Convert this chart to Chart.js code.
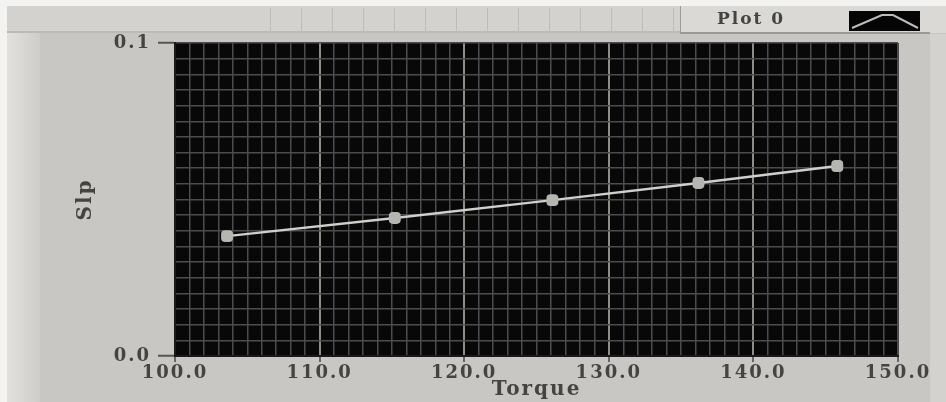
<!DOCTYPE html>
<html lang="en">
<head>
  <meta charset="UTF-8">
  <title>Slp vs Torque</title>
  <script src="https://cdn.jsdelivr.net/npm/chart.js@4.4.0/dist/chart.umd.min.js"></script>
  <style>
    html, body { margin: 0; padding: 0; background: #c9c7c3; }
    #wrap { width: 946px; height: 402px; position: relative; }
  </style>
</head>
<body>
  <div id="wrap"><canvas id="chart"></canvas></div>
  <script>
    // values
    const torque = [103.6, 115.2, 126.1, 136.2, 145.8];
    const slip = [0.0383, 0.0441, 0.0498, 0.0553, 0.0607];
    const plotName = 'Plot 0';
    const xTitle = 'Torque';
    const yTitle = 'Slp';

    const labelFont = { family: 'DejaVu Serif', size: 18, weight: 'bold' };
    const titleFont = { family: 'DejaVu Serif', size: 20, weight: 'bold' };
    const inkColor = '#444442';

    // LabVIEW-like panel: grey frame, title strip, legend box, black plot area
    const panelPlugin = {
      id: 'panel',
      beforeDraw(chart) {
        const ctx = chart.ctx;
        const W = chart.width, H = chart.height;
        const ca = chart.chartArea;
        ctx.save();
        ctx.fillStyle = '#c9c7c3';
        ctx.fillRect(0, 0, W, H);

        // white margins
        ctx.fillStyle = '#f3f3f1';
        ctx.fillRect(0, 0, W, 6);
        ctx.fillRect(0, 0, 7, H);

        // left light strip
        const g = ctx.createLinearGradient(7, 0, 40, 0);
        g.addColorStop(0, '#e2e1dd');
        g.addColorStop(1, '#cfcdc9');
        ctx.fillStyle = g;
        ctx.fillRect(7, 33, 33, H - 33);

        // right strip
        ctx.fillStyle = '#d3d2ce';
        ctx.fillRect(930, 34, W - 930, H - 34);

        // title strip
        ctx.fillStyle = '#d3d2ce';
        ctx.fillRect(7, 6, 673, 27);
        ctx.strokeStyle = 'rgba(150,148,144,0.35)';
        ctx.lineWidth = 1;
        for (let x = 270; x < 680; x += 31) {
          ctx.beginPath(); ctx.moveTo(x + 0.5, 8); ctx.lineTo(x + 0.5, 31); ctx.stroke();
        }
        ctx.fillStyle = '#bdbbb7';
        ctx.fillRect(7, 31, 673, 2);

        // legend box
        ctx.fillStyle = '#dad9d5';
        ctx.fillRect(680, 6, W - 680, 27);
        ctx.fillStyle = '#9d9b97';
        ctx.fillRect(680, 32, 250, 2);
        ctx.fillRect(680, 6, 1, 27);

        ctx.letterSpacing = '2px';
        ctx.fillStyle = inkColor;
        ctx.font = 'bold 17px "DejaVu Serif"';
        ctx.textBaseline = 'middle';
        ctx.textAlign = 'left';
        ctx.fillText(chart.data.datasets[0].label, 717, 20);

        // legend icon
        ctx.fillStyle = '#050505';
        ctx.fillRect(849, 11, 71, 20);
        ctx.strokeStyle = '#bdbdb9';
        ctx.lineWidth = 2;
        ctx.beginPath();
        ctx.moveTo(852, 28); ctx.lineTo(882, 15); ctx.lineTo(893, 15); ctx.lineTo(918, 28);
        ctx.stroke();

        // plot background
        ctx.fillStyle = '#080808';
        ctx.fillRect(ca.left, ca.top, ca.right - ca.left, ca.bottom - ca.top);
        ctx.restore();
        ctx.letterSpacing = '2px';
      }
    };

    const isMajorX = v => Math.round(v) % 10 === 0;
    const isLabelY = v => Math.round(v * 200) % 20 === 0;

    new Chart(document.getElementById('chart'), {
      type: 'line',
      data: {
        datasets: [{
          label: plotName,
          data: torque.map((t, i) => ({ x: t, y: slip[i] })),
          borderColor: '#cfcfcb',
          borderWidth: 2.5,
          tension: 0,
          pointStyle: 'rectRounded',
          pointRadius: 5.5,
          pointBackgroundColor: '#b5b5b1',
          pointBorderColor: '#b5b5b1'
        }]
      },
      options: {
        responsive: true,
        maintainAspectRatio: false,
        animation: false,
        layout: { padding: { left: 0, top: 43, right: 48, bottom: 0 } },
        plugins: {
          legend: { display: false },
          tooltip: { enabled: false }
        },
        scales: {
          x: {
            type: 'linear',
            min: 100,
            max: 150,
            afterFit: s => { s.height = 46; },
            ticks: {
              stepSize: 1,
              autoSkip: false,
              maxRotation: 0,
              padding: 1,
              color: inkColor,
              font: labelFont,
              callback: v => isMajorX(v) ? v.toFixed(1) : ''
            },
            grid: {
              color: c => (c.tick && isMajorX(c.tick.value) && c.tick.value > 100 && c.tick.value < 150) ? '#8e8e86' : '#4c4c4c',
              lineWidth: c => (c.tick && isMajorX(c.tick.value)) ? 2 : 1.5,
              tickColor: c => (c.tick && isMajorX(c.tick.value)) ? '#666' : 'rgba(0,0,0,0)',
              tickWidth: 2,
              tickLength: 6
            },
            border: { display: true, color: '#1a1a1a', width: 2 },
            title: {
              display: true,
              text: xTitle,
              color: inkColor,
              font: titleFont,
              padding: { top: 0, bottom: 0 }
            }
          },
          y: {
            min: 0,
            max: 0.1,
            afterFit: s => { s.width = 175; },
            ticks: {
              stepSize: 0.005,
              autoSkip: false,
              padding: 7,
              color: inkColor,
              font: labelFont,
              callback: v => isLabelY(v) ? v.toFixed(1) : ''
            },
            grid: {
              color: '#4c4c4c',
              lineWidth: 1.5,
              tickColor: c => (c.tick && isLabelY(c.tick.value)) ? '#555' : 'rgba(0,0,0,0)',
              tickWidth: 2,
              tickLength: 17
            },
            border: { display: true, color: '#1a1a1a', width: 2 },
            title: {
              display: true,
              text: yTitle,
              color: inkColor,
              font: titleFont,
              padding: { top: 74, bottom: 0 }
            }
          }
        }
      },
      plugins: [panelPlugin]
    });
  </script>
</body>
</html>
